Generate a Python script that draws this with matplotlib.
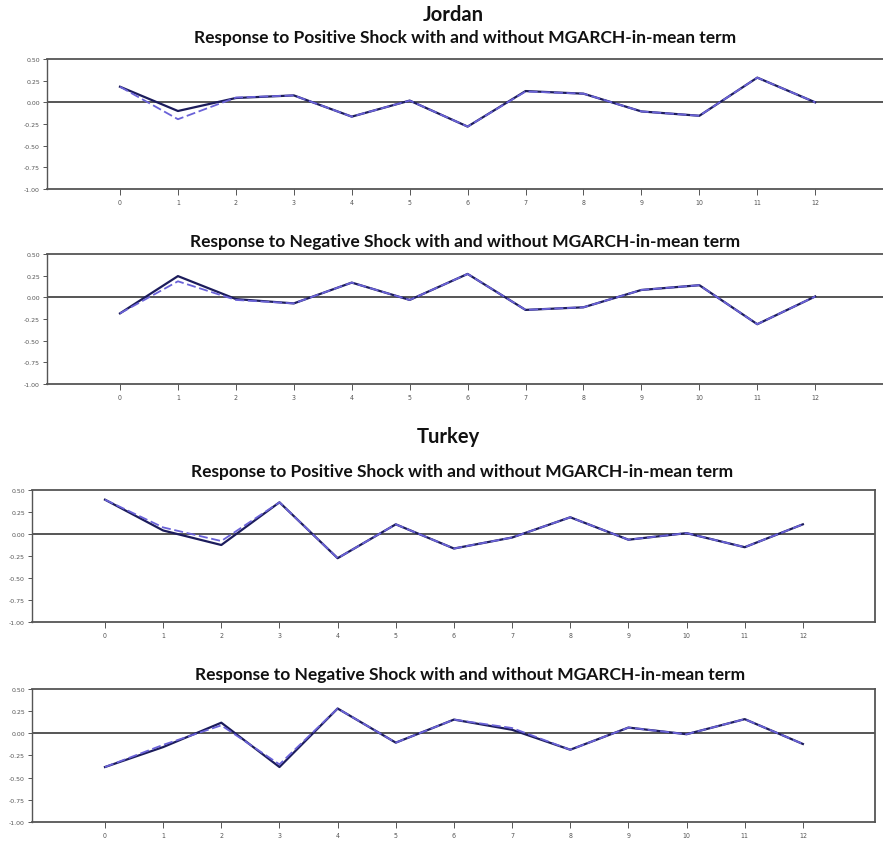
import matplotlib
matplotlib.use("Agg")
import matplotlib.pyplot as plt
import numpy as np

horizons = list(range(13))
y_ticks = [0.50, 0.25, 0.00, -0.25, -0.50, -0.75, -1.00]
y_tick_labels = ["0.50", "0.25", "0.00", "-0.25", "-0.50", "-0.75", "-1.00"]

country_titles = ["Jordan", "Turkey"]
pos_title = "Response to Positive Shock with and without MGARCH-in-mean term"
neg_title = "Response to Negative Shock with and without MGARCH-in-mean term"

# Jordan
jor_pos_with = [0.18, -0.10, 0.05, 0.08, -0.165, 0.02, -0.28, 0.13, 0.10, -0.105, -0.155, 0.285, 0.00]
jor_pos_without = [0.18, -0.195, 0.055, 0.08, -0.165, 0.02, -0.28, 0.125, 0.10, -0.105, -0.155, 0.285, 0.00]
jor_neg_with = [-0.185, 0.245, -0.02, -0.07, 0.17, -0.03, 0.27, -0.145, -0.115, 0.085, 0.14, -0.31, 0.01]
jor_neg_without = [-0.185, 0.185, -0.03, -0.07, 0.17, -0.03, 0.27, -0.145, -0.115, 0.085, 0.14, -0.31, 0.01]
# Turkey
tur_pos_with = [0.39, 0.04, -0.125, 0.36, -0.275, 0.11, -0.165, -0.04, 0.19, -0.065, 0.01, -0.15, 0.11]
tur_pos_without = [0.39, 0.075, -0.08, 0.36, -0.275, 0.11, -0.165, -0.04, 0.19, -0.065, 0.01, -0.15, 0.11]
tur_neg_with = [-0.38, -0.155, 0.12, -0.38, 0.28, -0.105, 0.155, 0.04, -0.185, 0.065, -0.01, 0.16, -0.12]
tur_neg_without = [-0.38, -0.13, 0.09, -0.35, 0.28, -0.105, 0.155, 0.06, -0.185, 0.065, -0.01, 0.16, -0.12]

FONT = ["Lato", "DejaVu Sans"]
dark = "#1c1c5c"
light = "#6a62d8"

fig = plt.figure(figsize=(8.83, 8.45), dpi=100)

def make_panel(rect, xlim, with_vals, without_vals, right_spine):
    ax = fig.add_axes(rect)
    ax.set_xlim(*xlim)
    ax.set_ylim(-1.0, 0.5)
    ax.axhline(0, color="#555555", lw=1.4, zorder=1)
    ax.plot(horizons, with_vals, color=dark, lw=1.6, zorder=3)
    ax.plot(horizons, without_vals, color=light, lw=1.3, ls=(0, (5, 2)), zorder=4)
    ax.set_yticks(y_ticks)
    ax.set_yticklabels(y_tick_labels, fontsize=4.5, color="#555555")
    ax.set_xticks(horizons)
    ax.set_xticklabels([str(h) for h in horizons], fontsize=5, color="#555555",
                       fontstretch="condensed")
    ax.tick_params(axis="both", length=3, width=0.7, color="#555555", pad=2)
    ax.tick_params(axis="x", length=4, pad=3)
    for s in ["top", "bottom", "left"]:
        ax.spines[s].set_color("#555555")
        ax.spines[s].set_linewidth(1.3)
    ax.spines["left"].set_linewidth(1.0)
    ax.spines["right"].set_visible(right_spine)
    ax.spines["right"].set_color("#555555")
    ax.spines["right"].set_linewidth(1.3)
    return ax

W, H = 883.0, 845.0
def rect(l, r, t, b):
    return [l / W, 1 - b / H, (r - l) / W, (b - t) / H]

make_panel(rect(47, 883, 60, 190), (-1.26, 13.17), jor_pos_with, jor_pos_without, False)
make_panel(rect(47, 883, 255, 385), (-1.26, 13.17), jor_neg_with, jor_neg_without, False)
make_panel(rect(32, 875, 491, 623), (-1.255, 13.24), tur_pos_with, tur_pos_without, True)
make_panel(rect(32, 875, 690, 823), (-1.255, 13.24), tur_neg_with, tur_neg_without, True)

def ftext(x, y, s, size):
    fig.text(x / W, 1 - y / H, s, ha="center", va="center", fontsize=size,
             fontweight="bold", family=FONT, color="#111111")

ftext(453, 15, country_titles[0], 14.5)
ftext(465, 38, pos_title, 12.5)
ftext(465, 242, neg_title, 12.5)
ftext(448, 437, country_titles[1], 14.5)
ftext(462, 472, pos_title, 12.5)
ftext(470, 675, neg_title, 12.5)

fig.savefig("out.png", dpi=100, facecolor="white")
